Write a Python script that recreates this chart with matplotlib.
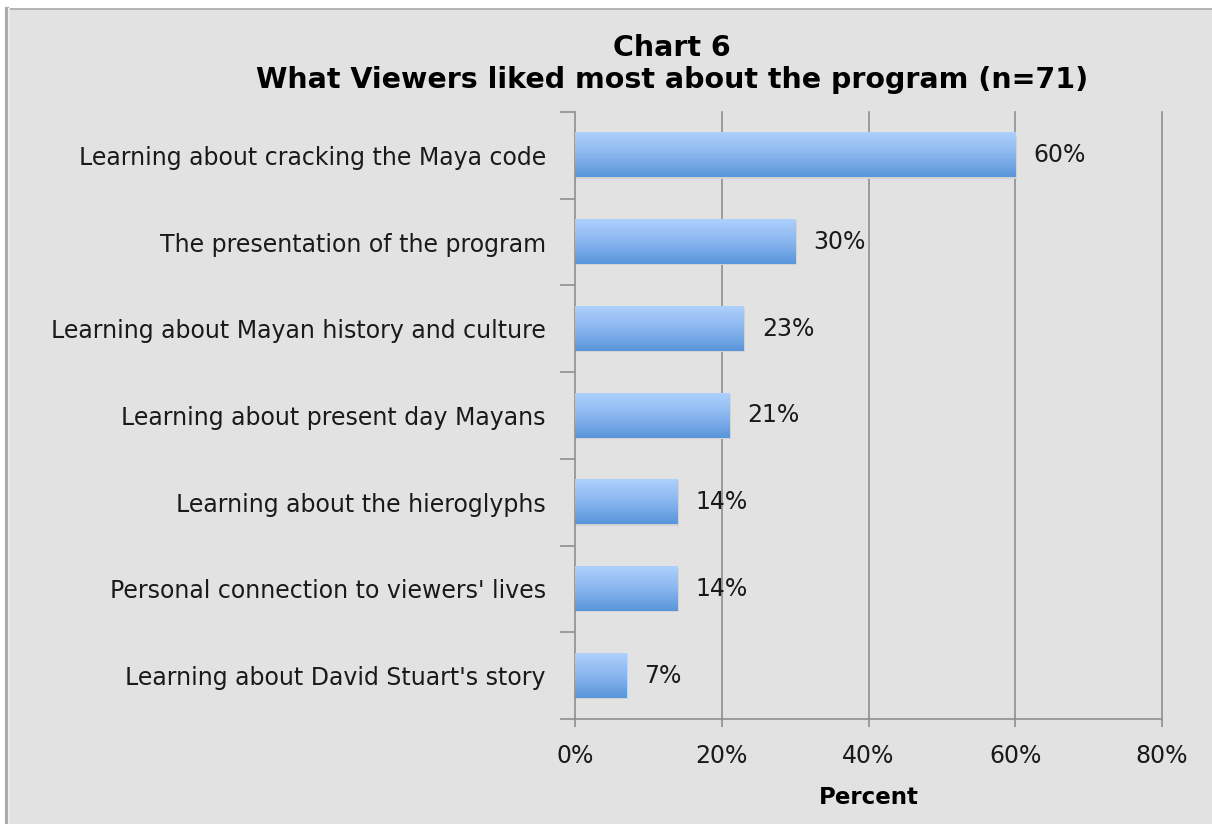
import numpy as np
import matplotlib
matplotlib.use("Agg")
import matplotlib.pyplot as plt
from matplotlib.colors import LinearSegmentedColormap
from matplotlib.patches import Rectangle
from matplotlib.lines import Line2D

categories = [
    "Learning about cracking the Maya code",
    "The presentation of the program",
    "Learning about Mayan history and culture",
    "Learning about present day Mayans",
    "Learning about the hieroglyphs",
    "Personal connection to viewers' lives",
    "Learning about David Stuart's story",
]
values = [60, 30, 23, 21, 14, 14, 7]
x_ticks = [0, 20, 40, 60, 80]
x_tick_labels = ["0%", "20%", "40%", "60%", "80%"]
title = "Chart 6\nWhat Viewers liked most about the program (n=71)"
x_label = "Percent"

FONT = "DejaVu Sans"
LABEL_SIZE = 17
PANEL = "#e2e2e2"
GRID = "#8f8f8f"
TEXT = "#1a1a1a"

fig = plt.figure(figsize=(12.12, 8.24), dpi=100, facecolor="white")

# grey panel with its border lines
W, H = 1212, 824
fig.patches.append(Rectangle((6 / W, 0), 1 - 6 / W, (H - 9) / H,
                             transform=fig.transFigure, facecolor=PANEL,
                             edgecolor="none", zorder=-10))
fig.lines.append(Line2D([5.5 / W, 1], [(H - 9) / H] * 2, transform=fig.transFigure,
                        color="#a8a8a8", lw=1.2))
fig.lines.append(Line2D([6.5 / W] * 2, [0, (H - 9) / H], transform=fig.transFigure,
                        color="#aaaaaa", lw=3.0))
fig.lines.append(Line2D([9 / W] * 2, [0, (H - 9) / H], transform=fig.transFigure,
                        color="#ececec", lw=1.5))

ax = fig.add_axes([575 / W, (H - 719) / H, (1162 - 575) / W, (719 - 112) / H])
ax.set_facecolor(PANEL)

n = len(categories)
ypos = np.arange(n)

# vertical grid lines behind the bars
for xv in x_ticks[1:]:
    ax.axvline(xv, color=GRID, lw=1.2, zorder=1, clip_on=False)

# bars with a vertical blue gradient and a faint drop shadow
cmap = LinearSegmentedColormap.from_list("bar", ["#aed0fc", "#8ab6ef", "#5895da"])
grad = np.linspace(0, 1, 256).reshape(-1, 1)
bar_h = 0.51
for y, v in zip(ypos, values):
    ax.add_patch(Rectangle((0, y - bar_h / 2 + 0.015), v + 0.2, bar_h,
                           facecolor="#d2d2d2", edgecolor="none", zorder=2))
    ax.imshow(grad, cmap=cmap, aspect="auto", interpolation="bicubic",
              extent=(0, v, y + bar_h / 2, y - bar_h / 2), zorder=3)
    ax.annotate(f"{v}%", xy=(v, y), xytext=(13, 0), textcoords="offset points",
                ha="left", va="center", fontsize=LABEL_SIZE, family=FONT, color=TEXT)
ax.set_xlim(0, 80)
ax.set_ylim(n - 0.5, -0.5)

for s in ["top", "right"]:
    ax.spines[s].set_visible(False)
for s in ["left", "bottom"]:
    ax.spines[s].set_color(GRID)
    ax.spines[s].set_linewidth(1.2)

ax.set_yticks(ypos)
ax.set_yticklabels(categories, fontsize=LABEL_SIZE, family=FONT, color=TEXT)
ax.tick_params(axis="y", which="major", length=0, pad=21)
ax.set_yticks(np.arange(n + 1) - 0.5, minor=True)
ax.tick_params(axis="y", which="minor", length=11, width=1.2, color=GRID)

ax.set_xticks(x_ticks)
ax.set_xticklabels(x_tick_labels, fontsize=LABEL_SIZE, family=FONT, color=TEXT)
ax.tick_params(axis="x", which="major", length=6, width=1.2, color=GRID, pad=12)

ax.set_xlabel(x_label, fontsize=LABEL_SIZE - 0.5, family=FONT, fontweight="bold",
              labelpad=13)

fig.text(672 / W, 1 - 64 / H, title, ha="center", va="center", fontsize=20.5,
         family=FONT, fontweight="bold", linespacing=1.2)

fig.savefig("out.png", dpi=100, facecolor="white")
